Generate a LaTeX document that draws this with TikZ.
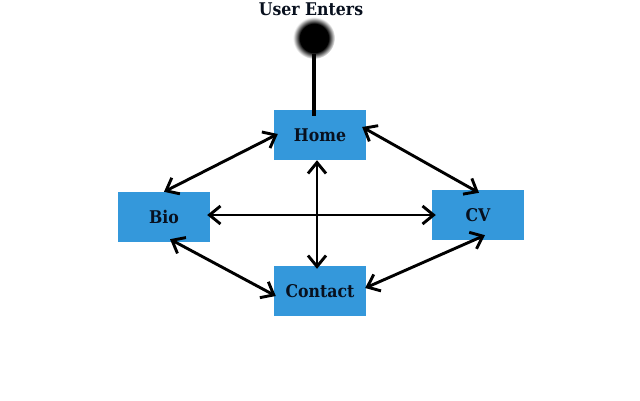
\documentclass[tikz,border=0pt]{standalone}
\usepackage{fontspec}
\setmainfont{DejaVu Serif Condensed}
\usetikzlibrary{arrows.meta}
\definecolor{boxblue}{RGB}{52,152,219}
\definecolor{txt}{RGB}{8,16,30}
\pgfdeclareradialshading{blob}{\pgfpoint{0bp}{0bp}}{color(0bp)=(black); color(17bp)=(black); color(25bp)=(white); color(50bp)=(white)}
\begin{document}
\begin{tikzpicture}[x=1pt,y=-1pt,
  pagebox/.style={fill=boxblue, draw=none, minimum width=92pt, minimum height=50pt, inner sep=0pt,
     font=\fontsize{17.5}{20}\selectfont\bfseries, text=txt},
  link/.style={line width=2.9pt, black, {Straight Barb[length=11pt,width=18pt]}-{Straight Barb[length=11pt,width=18pt]}}]
\useasboundingbox (0,0) rectangle (640,400);
\node[font=\fontsize{17.5}{20}\selectfont\bfseries, text=txt] (label) at (311,9) {User Enters};
\shade[shading=blob] (314,38) circle (21);
\coordinate (start) at (314,54);
\node[pagebox] (home) at (320,135) {Home};
\node[pagebox] (bio) at (164,217) {Bio};
\node[pagebox] (cv) at (478,215) {CV};
\node[pagebox] (contact) at (320,291) {Contact};
\draw[line width=4.5pt] (start) -- ([xshift=-6,yshift=-6]home.north);
\draw[link] ([xshift=4,yshift=1]home.west) -- (bio.north);
\draw[link] ([xshift=-4,yshift=8]home.east) -- ([xshift=1,yshift=-3]cv.north);
\draw[link] ([xshift=-3,yshift=2]bio.east) -- ([xshift=4]cv.west);
\draw[link] ([xshift=-3]home.south) -- ([xshift=-3,yshift=-3]contact.north);
\draw[link] ([xshift=6,yshift=3]bio.south) -- ([xshift=2,yshift=-5]contact.west);
\draw[link] ([xshift=7,yshift=5]cv.south) -- ([xshift=-1,yshift=3]contact.east);
\end{tikzpicture}
\end{document}
